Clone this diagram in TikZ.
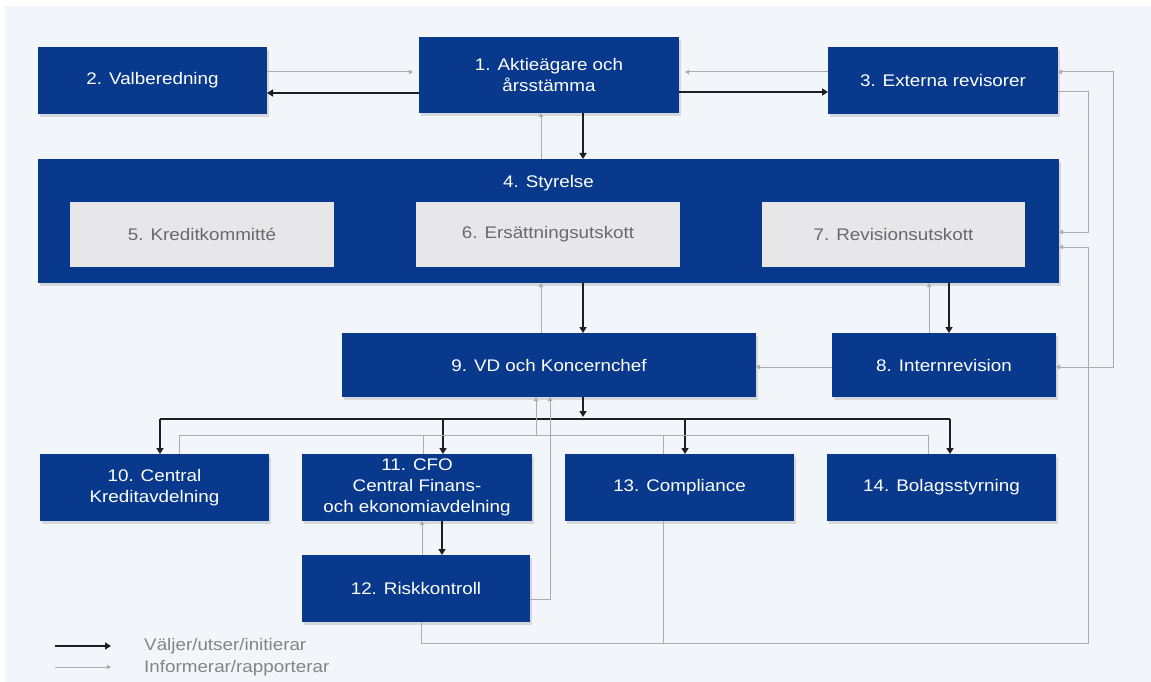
\documentclass[tikz,border=0pt]{standalone}
\usepackage{fontspec}
\setmainfont{Liberation Sans}[FakeStretch=1.12]
\usetikzlibrary{arrows.meta,shadows}
\definecolor{boardblue}{RGB}{9,57,141}
\definecolor{cttefill}{RGB}{231,231,233}
\definecolor{ctteink}{RGB}{105,105,110}
\definecolor{paper}{RGB}{242,246,251}
\definecolor{infogray}{RGB}{170,172,177}
\definecolor{pickink}{RGB}{30,30,34}
\definecolor{keyink}{RGB}{130,132,136}
\tikzset{
  ctip/.tip={Triangle[length=6pt,width=7pt]},
  rtip/.tip={Triangle[length=4pt,width=4.5pt]},
  unit/.style={fill=boardblue, text=white, align=center, inner sep=0pt, outer sep=0pt,
    font=\fontsize{16.8}{21}\selectfont,
    drop shadow={shadow xshift=2pt, shadow yshift=-3pt, opacity=.18, fill=black!70}},
  dept/.style={unit, minimum width=229pt, minimum height=67pt},
  cttebox/.style={fill=cttefill, text=ctteink, inner sep=0pt, outer sep=0pt,
    minimum width=264pt, minimum height=65pt, font=\fontsize{16.8}{21}\selectfont},
  pickline/.style={draw=pickink, line width=1.6pt},
  infoline/.style={draw=infogray, line width=1pt},
  chooses/.style={pickline, -ctip},
  reports/.style={infoline, -rtip},
  keytext/.style={text=keyink, anchor=west, inner sep=0pt, font=\fontsize{16.8}{21}\selectfont}
}
\begin{document}
\begin{tikzpicture}[x=1pt,y=-1pt]
  \useasboundingbox (0,0) rectangle (1151,682);
  \fill[paper] (0,0) rectangle (1151,682);
  \fill[white] (0,0) rectangle (1151,6);
  \fill[white] (0,0) rectangle (5,682);
  % Top row
  \node[unit, minimum width=260pt, minimum height=76pt] (n1) at (549,75) {1. Aktieägare och\\årsstämma};
  \node[dept] (n2) at (152.5,80.5) {2. Valberedning};
  \node[dept, minimum width=230pt] (n3) at (943,80.5) {3. Externa revisorer};
  % Board with its committees
  \node[unit, minimum width=1021pt, minimum height=124pt] (n4) at (548.5,221) {};
  \node[text=white, font=\fontsize{16.8}{21}\selectfont] (styr) at (548.5,183) {4. Styrelse};
  \node[cttebox] (n5) at (202,234.5) {5. Kreditkommitté};
  \node[cttebox] (n6) at (548,234.5) {6. Ersättningsutskott};
  \node[cttebox, minimum width=263pt] (n7) at (893.5,234.5) {7. Revisionsutskott};
  % Management
  \node[unit, minimum width=414pt, minimum height=64pt] (n9) at (549,365) {9. VD och Koncernchef};
  \node[unit, minimum width=224pt, minimum height=64pt] (n8) at (944,365) {8. Internrevision};
  % Departments
  \node[dept] (n10) at (154.5,487.5) {10. Central\\Kreditavdelning};
  \node[dept, minimum width=230pt] (n11) at (417,487.5) {11. CFO\\Central Finans-\\och ekonomiavdelning};
  \node[dept] (n13) at (679.5,487.5) {13. Compliance};
  \node[dept] (n14) at (941.5,487.5) {14. Bolagsstyrning};
  \node[dept, minimum width=228pt] (n12) at (416,588.5) {12. Riskkontroll};

  % Väljer/utser/initierar
  \draw[chooses] (n1.west |- 0,93) -- (n2.east |- 0,93);
  \draw[chooses] (n1.east |- 0,92) -- (n3.west |- 0,92);
  \draw[chooses] (n1.south -| 583,0) -- (n4.north -| 583,0);
  \draw[chooses] (n4.south -| 583,0) -- (n9.north -| 583,0);
  \draw[chooses] (n4.south -| 949,0) -- (n8.north -| 949,0);
  \coordinate (hub) at (583,419);
  \coordinate (busL) at (160,419);
  \coordinate (busR) at (950,419);
  \draw[chooses, shorten >=2pt] (n9.south -| hub) -- (hub);
  \draw[pickline] (busL) -- (busR);
  \foreach \x/\n in {160/n10,443/n11,685/n13,950/n14}
    \draw[chooses] (\x,419) -- (\n.north -| \x,0);
  \draw[chooses] (n11.south -| 442,0) -- (n12.north -| 442,0);

  % Informerar/rapporterar
  \draw[reports, shorten >=6pt] (n2.east |- 0,72) -- (n1.west |- 0,72);
  \draw[reports, shorten >=6pt] (n3.west |- 0,72) -- (n1.east |- 0,72);
  \draw[reports] (n4.north -| 541,0) -- (n1.south -| 541,0);
  \draw[reports] (n9.north -| 541,0) -- (n4.south -| 541,0);
  \draw[reports] (n8.north -| 929,0) -- (n4.south -| 929,0);
  \draw[reports] (n8.west |- 0,367) -- (n9.east |- 0,367);
  \draw[infoline, rtip-rtip] (n8.east |- 0,367) -- (1113,367) -- (1113,72) -- (n3.east |- 0,72);
  \draw[reports] (n3.east |- 0,92) -- (1088,92) -- (1088,232) -- (n4.east |- 0,232);
  \draw[reports] (n12.south -| 421,0) -- (421,643) -- (1088,643) -- (1088,247) -- (n4.east |- 0,247);
  \draw[infoline] (n13.south -| 663,0) -- (663,643);
  \coordinate (repL) at (179,435);
  \coordinate (repR) at (928,435);
  \draw[infoline] (n10.north -| repL) -- (repL) -- (repR) -- (n14.north -| repR);
  \draw[infoline] (n11.north -| 423,0) -- (423,435);
  \draw[infoline] (n13.north -| 663,0) -- (663,435);
  \draw[reports] (536,435) -- (n9.south -| 536,0);
  \draw[reports] (n12.east |- 0,599) -- (550,599) -- (n9.south -| 550,0);
  \draw[reports] (n12.north -| 422,0) -- (n11.south -| 422,0);

  % Key
  \coordinate (keyA) at (55,646);
  \coordinate (keyB) at (111,646);
  \coordinate (keyC) at (55,667);
  \coordinate (keyD) at (111,667);
  \draw[chooses] (keyA) -- (keyB);
  \draw[reports] (keyC) -- (keyD);
  \node[keytext] (keyAt) at (144,646) {Väljer/utser/initierar};
  \node[keytext] (keyCt) at (144,668) {Informerar/rapporterar};
\end{tikzpicture}
\end{document}
